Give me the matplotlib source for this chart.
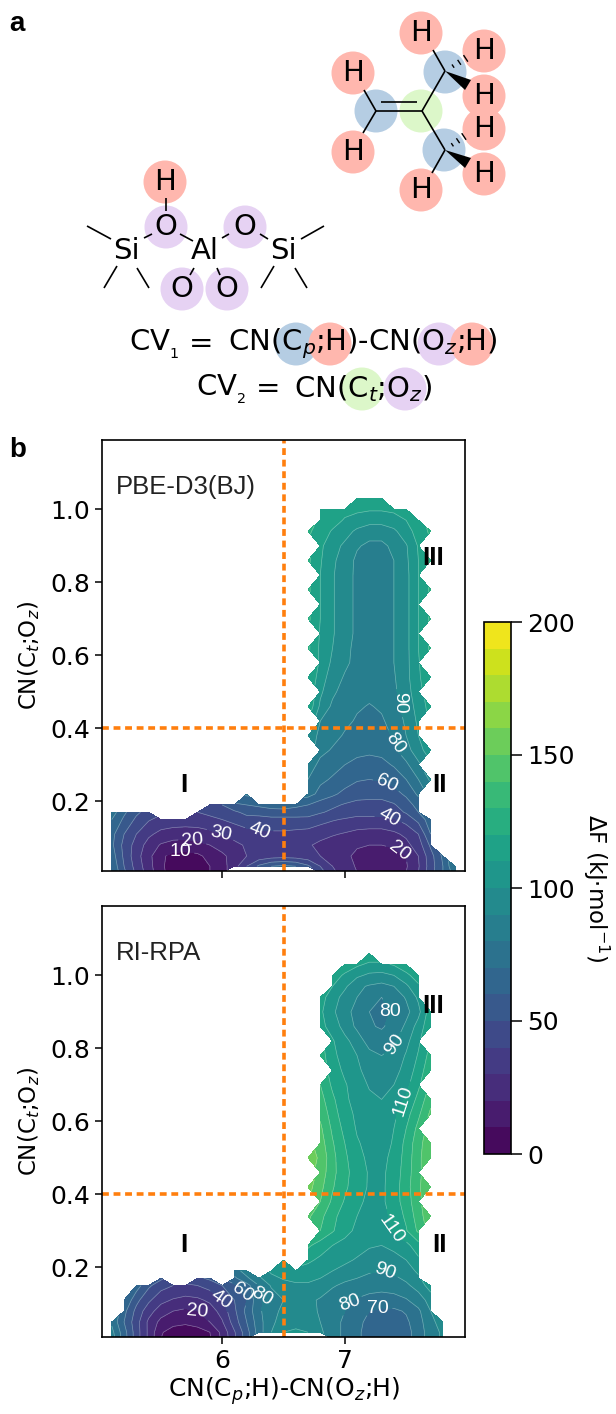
import numpy as np
import matplotlib
matplotlib.use("Agg")
import matplotlib.pyplot as plt
from matplotlib.patches import Ellipse, Polygon

n = np.nan

# === Data ===
x_grid = [5.1, 5.2, 5.3, 5.4, 5.5, 5.6, 5.7, 5.8, 5.9, 6.0, 6.1, 6.2, 6.3, 6.4, 6.5, 6.6,
          6.7, 6.8, 6.9, 7.0, 7.1, 7.2, 7.3, 7.4, 7.5, 7.6, 7.7, 7.8, 7.9]
y_grid = [0.005, 0.022, 0.05, 0.08, 0.11, 0.15, 0.17, 0.19, 0.22, 0.26, 0.30, 0.34, 0.38, 0.42, 0.46, 0.50,
          0.54, 0.58, 0.62, 0.66, 0.70, 0.74, 0.78, 0.82, 0.86, 0.90, 0.94, 0.97, 1.00, 1.03, 1.06]

F_pbe = [
    [70, 52, 38, 25, 13, 5, 2, 5, 10, 16, n, n, n, n, n, n, n, 45, 32, 26, 20, 16, 14, 15, 20, 30, 46, 60, 75],
    [68, 50, 36, 24, 12, 5, 3, 5, 10, 16, 26, 40, 52, 60, 62, 60, 52, 40, 30, 24, 19, 15, 13, 14, 19, 29, 45, 60, 80],
    [65, 48, 34, 23, 12, 7, 6, 8, 13, 18, 24, 30, 33, 35, 36, 35, 33, 30, 26, 22, 18, 15, 14, 15, 20, 30, 46, 62, n],
    [62, 47, 36, 26, 19, 16, 16, 17, 20, 24, 28, 31, 33, 34, 33, 32, 31, 28, 25, 23, 21, 20, 20, 22, 27, 35, 52, n, n],
    [63, 50, 40, 32, 27, 25, 24, 25, 27, 30, 33, 36, 38, 38, 38, 37, 36, 33, 31, 29, 27, 26, 26, 28, 32, 40, 60, n, n],
    [70, 58, 48, 41, 37, 36, 36, 36, 38, 40, 43, 46, 46, 47, 47, 47, 47, 44, 41, 39, 37, 37, 37, 39, 44, 53, 66, n, n],
    [75, 62, 52, 46, n, n, n, 40, 42, 44, 48, 53, 54, 56, 56, 56, 55, 51, 48, 46, 44, 44, 44, 46, 51, 60, n, n, n],
    [n, n, n, n, n, n, n, n, 46, 50, 58, 60, 62, 64, 65, 62, 60, 55, 52, 49, 47, 47, 47, 49, 55, 64, n, n, n],
    [n, n, n, n, n, n, n, n, n, n, n, 72, n, n, n, n, 74, 67, 62, 57, 54, 53, 53, 56, 62, 72, n, n, n],
    [n] * 16 + [80, 72, 69, 65, 61, 60, 61, 64, 70, 80, 92, n, n],
    [n] * 16 + [86, 77, 73, 70, 67, 66, 67, 71, 78, 88, n, n, n],
    [n] * 16 + [n, 83, 79, 76, 73, 72, 73, 78, 86, 96, 106, n, n],
    [n] * 16 + [100, 86, 83, 79, 77, 75, 77, 81, 90, 100, n, n, n],
    [n] * 16 + [n, 90, 85, 82, 79, 77.5, 79, 83, 92, 102, n, n, n],
    [n] * 16 + [118, 98, 88, 84, 81, 79.5, 81, 86, 94, 104, 114, n, n],
    [n] * 16 + [n, 102, 92, 86, 83, 82, 83, 88, 96, 106, n, n, n],
    [n] * 16 + [120, 105, 95, 89, 85, 83, 84, 89, 97, 108, 120, n, n],
    [n] * 16 + [n, 108, 98, 92, 87, 84, 84, 90, 97, 109, n, n, n],
    [n] * 16 + [122, 108, 100, 93, 87, 85, 85, 90, 97, 110, 122, n, n],
    [n] * 16 + [n, 109, 101, 94, 88, 85, 85, 90, 97, 110, n, n, n],
    [n] * 16 + [122, 110, 101, 94, 88, 85, 85, 90, 97, 110, 122, n, n],
    [n] * 16 + [n, 110, 101, 94, 88, 85, 85, 90, 97, 110, n, n, n],
    [n] * 16 + [122, 110, 101, 94, 88, 85, 85, 90, 97, 110, 122, n, n],
    [n] * 16 + [n, 110, 101, 94, 88, 85, 85, 90, 97, 110, n, n, n],
    [n] * 16 + [122, 111, 102, 95, 88, 85, 85, 90, 98, 110, 122, n, n],
    [n] * 16 + [n, 112, 104, 98, 91, 88, 88, 92, 99, 111, n, n, n],
    [n] * 16 + [122, 115, 109, 104, 98, 94, 94, 98, 106, 114, 122, n, n],
    [n] * 16 + [n, 118, 114, 109, 106, 104, 104, 106, 110, 116, n, n, n],
    [n] * 16 + [n, 119, 117, 113, 112, 111, 111, 112, 115, n, n, n, n],
    [n] * 16 + [n, n, n, n, 120, 119, 120, n, n, n, n, n, n],
    [n] * 29,
]

F_rpa = [
    [85, 65, 45, 28, 10, 5, 3, 5, 9, 22, 38, 55, n, n, n, n, n, n, 84, 78, 72, 66, 62, 62, 66, 75, 85, 92, n],
    [83, 64, 45, 28, 11, 6, 4, 6, 10, 23, 39, 56, 75, 90, 100, 102, 100, 92, 84, 78, 72, 66, 62, 62, 66, 75, 85, 92, n],
    [78, 60, 44, 28, 17, 13, 12, 14, 20, 29, 45, 60, 76, 88, 94, 96, 95, 90, 84, 78, 73, 67, 64, 64, 68, 76, 87, 95, n],
    [n, 63, 47, 34, 25, 20, 18, 20, 25, 34, 48, 63, 78, 87, 92, 94, 93, 89, 84, 80, 75, 70, 68, 68, 71, 78, 90, n, n],
    [n, 70, 53, 42, 33, 29, 27, 28, 32, 40, 50, 60, 78, 85, 90, 92, 92, 89, 85, 81, 79, 76, 75, 76, 79, 85, 94, n, n],
    [n, n, 65, 52, 44, 40, 38, 40, 44, 50, 58, 66, 80, 91, 96, 98, 98, 95, 91, 88, 86, 85, 84, 85, 88, 94, 105, n, n],
    [n, n, n, n, 52, n, n, 48, 52, n, 68, 78, 88, 97, 101, 103, 103, 100, 96, 92, 90, 88, 87, 88, 92, 98, n, n, n],
    [n] * 10 + [75, 85, n, 102, 106, 108, 106, 103, 100, 97, 94, 91, 90, 92, 95, 102, n, n, n],
    [n] * 14 + [110, n, 112, 108, 105, 102, 99, 96, 95, 96, 100, 108, n, n, n],
    [n] * 16 + [122, 115, 110, 107, 104, 101, 100, 103, 107, 116, n, n, n],
    [n] * 16 + [n, 130, 121, 113, 108, 105, 105, 111, 119, 132, n, n, n],
    [n] * 16 + [142, 133, 123, 115, 110, 106, 106, 113, 122, 135, 148, n, n],
    [n] * 16 + [n, 140, 128, 119, 112, 108, 108, 115, 125, 137, n, n, n],
    [n] * 16 + [154, 143, 131, 122, 114, 109, 108, 115, 126, 138, 150, n, n],
    [n] * 16 + [n, 146, 133, 123, 115, 109, 108, 114, 125, 137, n, n, n],
    [n] * 16 + [156, 148, 133, 122, 113, 108, 107, 113, 124, 137, 150, n, n],
    [n] * 16 + [n, 145, 131, 120, 111, 107, 106, 111, 123, 136, 148, n, n],
    [n] * 16 + [n, 142, 128, 117, 109, 106, 105, 110, 120, 133, n, n, n],
    [n] * 16 + [n, 138, 125, 114, 108, 105, 104, 108, 116, 128, 142, n, n],
    [n] * 16 + [n, 134, 122, 112, 106, 102, 100, 105, 111, 123, 137, n, n],
    [n] * 16 + [n, 130, 118, 111, 105, 99, 96, 100, 107, 118, n, n, n],
    [n] * 16 + [n, n, 115, 108, 102, 96, 92, 96, 104, 114, 128, n, n],
    [n] * 16 + [n, 125, 113, 105, 100, 93, 90, 93, 101, 111, 124, n, n],
    [n] * 16 + [n, n, 111, 103, 95, 86, 84, 88, 97, 108, n, n, n],
    [n] * 16 + [n, 113, 106, 96, 88, 81, 79, 83, 92, 104, 118, n, n],
    [n] * 16 + [n, 112, 102, 93, 87, 80, 78, 81, 87, 97, 116, n, n],
    [n] * 16 + [n, 114, 105, 96, 90, 84, 80, 84, 91, 102, n, n, n],
    [n] * 16 + [n, n, 110, 102, 92, 89, 87, 90, 98, 108, n, n, n],
    [n] * 16 + [n, n, 116, 108, 102, 98, 97, 100, 107, 116, n, n, n],
    [n] * 16 + [n, n, n, 118, 112, 108, 108, 111, 118, n, n, n, n],
    [n] * 16 + [n, n, n, n, n, 118, n, n, n, n, n, n, n],
]

levels = list(range(0, 201, 10))
cbar_ticks = [0, 50, 100, 150, 200]
y_ticks = [0.2, 0.4, 0.6, 0.8, 1.0]
x_ticks = [6, 7]

# where the contour labels sit, and how they are turned
labels_pbe = [(5.66, 0.046), (5.76, 0.098), (6.0, 0.125), (6.30, 0.113), (7.41, 0.046),
              (7.35, 0.139), (7.32, 0.232), (7.41, 0.36), (7.46, 0.47)]
rot_pbe = [0, 5, -12, -22, -38, -30, -25, -55, -90]
labels_rpa = [(5.81, 0.087), (6.01, 0.119), (6.17, 0.132), (6.37, 0.123), (6.98, 0.114), (7.27, 0.089),
              (7.31, 0.173), (7.39, 0.306), (7.50, 0.653), (7.44, 0.804), (7.40, 0.90)]
rot_rpa = [-5, -35, -35, -30, 20, 0, -20, -55, 72, 55, 0]

W, H = 616, 1414
fig = plt.figure(figsize=(W / 100, H / 100), dpi=100)


def ax_rect(left, top, right, bottom):
    return [left / W, 1 - bottom / H, (right - left) / W, (bottom - top) / H]


def panel(rect, F, name, name_y, label_xy, label_rot, iii_y, roman_y, show_x):
    ax = fig.add_axes(rect)
    F = np.array(F, dtype=float)
    cf = ax.contourf(x_grid, y_grid, F, levels=levels, cmap="viridis", vmin=0, vmax=200)
    cs = ax.contour(x_grid, y_grid, F, levels=levels, colors="white", linewidths=0.5, alpha=0.35)
    ax.set_xlim(5.02, 7.98)
    ax.set_ylim(0.009, 1.19)
    lab = ax.clabel(cs, fmt="%d", manual=label_xy, colors="white", fontsize=14, inline_spacing=2)
    for t, r in zip(lab, label_rot):
        t.set_family("Liberation Sans")
        t.set_alpha(1)
        t.set_rotation(r)
    dash = (0, (1.9, 1.3))
    ax.axvline(6.5, color="#ff7f0e", lw=2.6, ls=dash)
    ax.axhline(0.4, color="#ff7f0e", lw=2.6, ls=dash)
    ax.set_xticks(x_ticks)
    ax.set_yticks(y_ticks)
    ax.tick_params(labelsize=18, length=5, width=1.1, labelbottom=show_x)
    for s in ax.spines.values():
        s.set_linewidth(1.2)
    ax.set_ylabel(r"CN(C$_t$;O$_z$)", fontsize=16.5, labelpad=6)
    if show_x:
        ax.set_xlabel(r"CN(C$_p$;H)-CN(O$_z$;H)", fontsize=18, labelpad=2)
    ax.text(5.13, name_y, name, fontsize=18.5, family="Liberation Sans", color="#222222", va="center")
    for txt, tx, ty in [("I", 5.69, roman_y), ("II", 7.77, roman_y), ("III", 7.72, iii_y)]:
        ax.text(tx, ty, txt, fontsize=19, family="Liberation Sans", fontweight="bold", ha="center", va="center")
    return cf


cf = panel(ax_rect(102, 440, 465, 871), F_pbe, "PBE-D3(BJ)", 1.06, labels_pbe, rot_pbe, 0.868, 0.244, False)
panel(ax_rect(102, 906, 465, 1337), F_rpa, "RI-RPA", 1.06, labels_rpa, rot_rpa, 0.915, 0.26, True)

cax = fig.add_axes(ax_rect(484, 622, 511, 1154))
cb = fig.colorbar(cf, cax=cax, ticks=cbar_ticks)
cb.ax.tick_params(labelsize=18, length=8, width=1.1)
cb.outline.set_linewidth(1.2)
cb.set_label(r"$\Delta$F (kJ$\cdot$mol$^{-1}$)", rotation=270, fontsize=16.5, labelpad=26)

# === Panel a: schematic, in pixel coordinates ===
ov = fig.add_axes([0, 0, 1, 1], zorder=-1)
ov.set_xlim(0, W)
ov.set_ylim(H, 0)
ov.axis("off")

red, blue, green, purple = "#ffb7ae", "#b5cde3", "#dcf7c9", "#e6d2f3"
atoms = [
    (421, 33, red, "H"), (484, 51, red, "H"), (484, 96, red, "H"), (484, 129, red, "H"),
    (484, 174, red, "H"), (421, 190, red, "H"), (353, 73, red, "H"), (353, 152, red, "H"),
    (445, 72, blue, ""), (444, 150, blue, ""), (376, 111, blue, ""), (421, 111, green, ""),
    (165, 182, red, "H"), (166, 227, purple, "O"), (245, 227, purple, "O"),
    (182, 289, purple, "O"), (227, 289, purple, "O"),
    (126, 251, None, "Si"), (283, 251, None, "Si"), (205, 251, None, "Al"),
]
for ax_, ay_, col, sym in atoms:
    if col:
        ov.add_patch(Ellipse((ax_, ay_), 43, 43, color=col, lw=0))
    if sym:
        ov.text(ax_, ay_, sym, fontsize=21, ha="center", va="center")

bonds = [
    ((87, 226), (111, 239)), ((117, 266), (104, 288)), ((137, 268), (149, 288)), ((144, 238), (152, 234)),
    ((180, 234), (193, 241)), ((222, 238), (229, 234)), ((260, 234), (268, 239)), ((301, 239), (324, 226)),
    ((274, 266), (261, 288)), ((295, 268), (307, 288)), ((166, 198), (166, 211)), ((194, 268), (190, 275)),
    ((217, 268), (220, 275)), ((364, 90), (376, 111)), ((376, 111), (363, 133)), ((376, 111), (422, 111)),
    ((381, 102), (417, 102)), ((422, 111), (445, 71)), ((422, 111), (445, 150)), ((445, 71), (433, 50)),
    ((445, 150), (432, 173)),
]
for p, q in bonds:
    ov.plot([p[0], q[0]], [p[1], q[1]], color="black", lw=1.2, solid_capstyle="butt")

for c, tip in [((445, 71), (468, 85)), ((445, 150), (468, 163))]:
    ov.add_patch(Polygon([c, (tip[0] + 3, tip[1] - 5), (tip[0] - 3, tip[1] + 5)], color="black", lw=0))
for c, tip in [((445, 71), (468, 57)), ((445, 150), (466, 135))]:
    for f in (0.35, 0.62, 0.9):
        mx, my = c[0] + f * (tip[0] - c[0]), c[1] + f * (tip[1] - c[1])
        ov.plot([mx - 2 * f, mx + 2 * f], [my - 3 * f, my + 3 * f], color="black", lw=1)

for ex, ey, col in [(296, 344, blue), (330, 344, red), (439, 344, purple), (472, 344, red),
                    (362, 389, green), (405, 389, purple)]:
    ov.add_patch(Ellipse((ex, ey), 43, 43, color=col, lw=0))

eq_size = 21
ov.text(129, 344, r"CV$_{_1}$", fontsize=eq_size, va="center")
ov.text(189, 344, "=", fontsize=eq_size, va="center")
ov.text(228, 344, r"CN(C$_p$;H)-CN(O$_z$;H)", fontsize=eq_size, va="center")
ov.text(196, 389, r"CV$_{_2}$", fontsize=eq_size, va="center")
ov.text(256, 389, "=", fontsize=eq_size, va="center")
ov.text(294, 389, r"CN(C$_t$;O$_z$)", fontsize=eq_size, va="center")

ov.text(9, 24, "a", fontsize=20, family="Liberation Sans", fontweight="bold", va="center")
ov.text(9, 450, "b", fontsize=20, family="Liberation Sans", fontweight="bold", va="center")

fig.savefig("out.png", dpi=100)
